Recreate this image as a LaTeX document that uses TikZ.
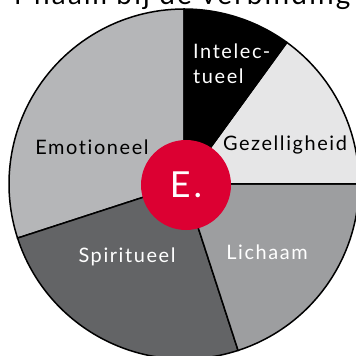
\documentclass[tikz,border=0pt]{standalone}
\usepackage{fontspec}
\setmainfont{Lato}[LetterSpace=8,Ligatures=NoCommon]
\usetikzlibrary{positioning}
\definecolor{emoGray}{RGB}{181,182,184}
\definecolor{gezGray}{RGB}{230,230,231}
\definecolor{lichGray}{RGB}{157,158,160}
\definecolor{spiGray}{RGB}{99,100,102}
\definecolor{eRed}{RGB}{220,0,50}

\begin{document}
\begin{tikzpicture}[x=1bp,y=1bp,
slice/.style={draw=black,line width=1.5bp},
lbl/.style={font=\fontsize{20}{25}\selectfont,inner sep=0pt},
wlbl/.style={lbl,text=white}
]
\clip (0,0) rectangle (356,356);
\useasboundingbox (0,0) rectangle (356,356);
\coordinate (o) at (184,172);
\foreach \a/\b/\c in {90/198/emoGray,198/288/spiGray,288/360/lichGray,0/54/gezGray,54/90/black}
\filldraw[slice,fill=\c] (o) -- ++(\a:175) arc[start angle=\a,end angle=\b,radius=175] -- cycle;
\node[anchor=base east,font=\fontsize{28}{30}\selectfont] (kop) at (354,352) {r naam bij de verbinding};
\node[lbl] (emo) at (92,209) {Emotioneel};
\node[wlbl,align=left,anchor=north west] (intel) at (193,312) {Intelec-\\tueel};
\node[lbl] (gez) at (285,211) {Gezelligheid};
\node[wlbl] (lich) at (267,104) {Lichaam};
\node[wlbl] (spi) at (127,99) {Spiritueel};
\node[circle,fill=eRed,minimum size=90bp,inner sep=0pt,text=white,font=\fontsize{36}{38}\selectfont] (e) at (186,171) {E.};
\end{tikzpicture}
\end{document}
